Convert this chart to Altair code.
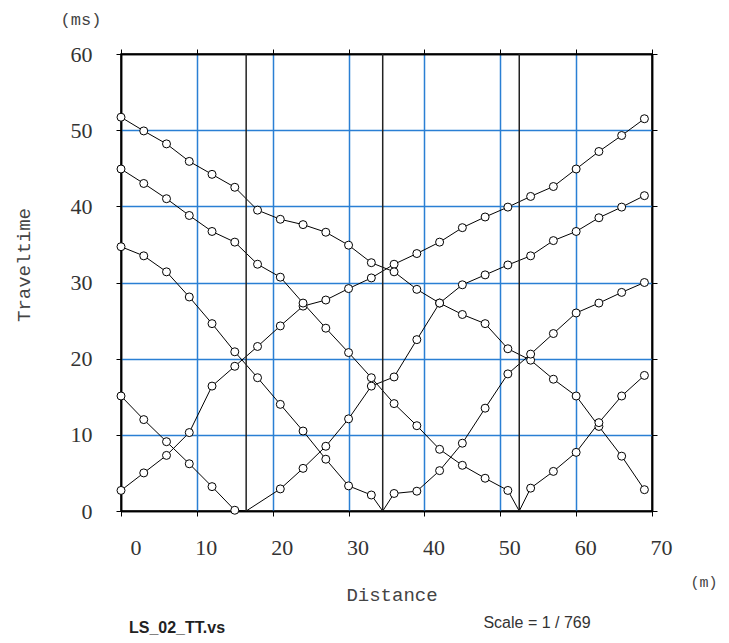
import altair as alt
import pandas as pd

# ---------------- data ----------------
geophones = [0, 3, 6, 9, 12, 15, 18, 21, 24, 27, 30, 33, 36, 39, 42, 45, 48, 51, 54, 57, 60, 63, 66, 69]
shot_positions = [16.5, 34.5, 52.5]
x_ticks = [0, 10, 20, 30, 40, 50, 60, 70]
y_ticks = [0, 10, 20, 30, 40, 50, 60]

# travel times (ms) per shot, None = no pick
times_A = [2.7, 5.0, 7.3, 10.3, 16.4, 19.0, 21.6, 24.3, 26.9, 27.7, 29.2, 30.6,
           32.4, 33.8, 35.3, 37.2, 38.6, 39.9, 41.3, 42.6, 44.9, 47.2, 49.3, 51.5]
times_B = [51.7, 49.9, 48.2, 45.9, 44.2, 42.5, 39.5, 38.3, 37.6, 36.6, 34.9, 32.6,
           31.4, 29.1, 27.3, 25.8, 24.6, 21.3, 19.8, 17.3, 15.1, 11.1, 7.2, 2.8]
times_C = [15.1, 12.0, 9.1, 6.2, 3.2, 0.1, None, 2.9, 5.6, 8.5, 12.1, 16.4,
           17.6, 22.5, 27.3, 29.7, 31.0, 32.3, 33.5, 35.5, 36.7, 38.5, 39.9, 41.4]
times_D = [34.7, 33.5, 31.4, 28.1, 24.6, 20.9, 17.5, 14.0, 10.5, 6.8, 3.3, 2.1,
           2.3, 2.6, 5.3, 8.9, 13.5, 18.0, 20.6, 23.3, 26.0, 27.3, 28.7, 30.0]
times_E = [44.9, 43.0, 41.0, 38.8, 36.7, 35.3, 32.4, 30.7, 27.3, 24.0, 20.8, 17.5,
           14.1, 11.2, 8.1, 6.0, 4.3, 2.7, 3.0, 5.2, 7.7, 11.6, 15.1, 17.8]

series = {"A": (times_A, None), "B": (times_B, None),
          "C": (times_C, shot_positions[0]), "D": (times_D, shot_positions[1]),
          "E": (times_E, shot_positions[2])}

rows = []
for name, (times, shot) in series.items():
    pts = [(g, t, True) for g, t in zip(geophones, times) if t is not None]
    if shot is not None:
        pts.append((shot, 0.0, False))
    pts.sort(key=lambda p: p[0])
    for k, (g, t, m) in enumerate(pts):
        rows.append({"shot": name, "x": g, "t": t, "marker": m, "order": k})
df = pd.DataFrame(rows)
df_pts = df[df["marker"]]
df_shots = pd.DataFrame({"x": shot_positions})

BLUE = "#2a7fd4"
xscale = alt.Scale(domain=[0, 70], nice=False, zero=False)
yscale = alt.Scale(domain=[0, 60], nice=False, zero=False)

grid_x = alt.condition("datum.value == 0 || datum.value == 70", alt.value("black"), alt.value(BLUE))
grid_y = alt.condition("datum.value == 0 || datum.value == 60", alt.value("black"), alt.value(BLUE))

ax_bottom = alt.Axis(values=x_ticks, orient="bottom", grid=True, gridColor=grid_x, gridWidth=1.5,
                     domainColor="black", domainWidth=1.5, tickColor="black", tickSize=5,
                     labelFont="Liberation Serif", labelFontSize=22, labelColor="#333333",
                     labelAlign="right", labelOffset=20, labelBaseline="middle", labelPadding=31,
                     labelFlush=False, labelOverlap=False, title=None)
ax_left = alt.Axis(values=y_ticks, orient="left", grid=True, gridColor=grid_y, gridWidth=1.5,
                   domainColor="black", domainWidth=1.5, tickColor="black", tickSize=5,
                   labelFont="Liberation Serif", labelFontSize=22, labelColor="#333333",
                   labelPadding=24, labelFlush=False, labelOverlap=False, title=None)
ax_top = alt.Axis(values=x_ticks, orient="top", grid=False, labels=False, domainColor="black",
                  domainWidth=1.5, tickColor="black", tickSize=5, title=None)
ax_right = alt.Axis(values=y_ticks, orient="right", grid=False, labels=False, domainColor="black",
                    domainWidth=1.5, tickColor="black", tickSize=5, title=None)

lines = alt.Chart(df).mark_line(color="black", strokeWidth=1).encode(
    x=alt.X("x:Q", scale=xscale, axis=ax_bottom),
    y=alt.Y("t:Q", scale=yscale, axis=ax_left),
    detail="shot:N",
    order="order:Q",
)

shot_rules = alt.Chart(df_shots).mark_rule(color="#222222", strokeWidth=1.5).encode(
    x=alt.X("x:Q", scale=xscale, axis=ax_top),
    y=alt.value(0),
    y2=alt.value(457),
)

right_axis = alt.Chart(df_shots).mark_rule(opacity=0).encode(
    y=alt.Y("x:Q", scale=yscale, axis=ax_right),
)

points = alt.Chart(df_pts).mark_point(shape="circle", size=64, filled=False, fill="white",
                                       fillOpacity=1, stroke="black", strokeWidth=1, opacity=1).encode(
    x=alt.X("x:Q", scale=xscale, axis=None),
    y=alt.Y("t:Q", scale=yscale, axis=None),
)

one = pd.DataFrame({"a": [0]})

def label(text, x, y, font, size, color="#444444", weight="normal", angle=0):
    return alt.Chart(one).mark_text(text=text, font=font, fontSize=size, color=color,
                                    fontWeight=weight, angle=angle, align="center",
                                    baseline="middle").encode(x=alt.value(x), y=alt.value(y))

texts = [
    label("(ms)", -40, -34, "Liberation Mono", 17),
    label("Traveltime", -97, 211, "Liberation Mono", 19, angle=270),
    label("Distance", 271, 541, "Liberation Mono", 19),
    label("(m)", 583, 528, "Liberation Mono", 15),
    label("LS_02_TT.vs", 56, 574, "Liberation Sans", 16, color="#222222", weight="bold"),
    label("Scale = 1 / 769", 416, 569, "Liberation Sans", 16, color="#333333"),
]

chart = alt.layer(lines, shot_rules, right_axis, points, *texts).resolve_axis(
    x="independent", y="independent"
).properties(
    width=531, height=457,
    autosize=alt.AutoSizeParams(type="none"),
    padding={"left": 113, "top": 46, "right": 69, "bottom": 124},
).configure_view(stroke="black", strokeWidth=1.5)

chart.save("out.html", embed_options={"renderer": "svg", "actions": False})
